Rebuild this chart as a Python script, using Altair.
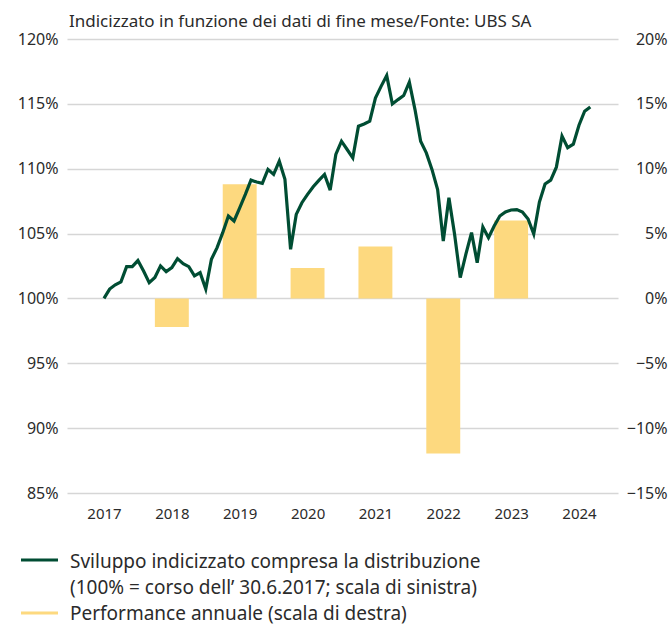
import altair as alt
import pandas as pd

# Monthly indexed development (100% = 30.6.2017), left scale
index_values = [
    100.0, 100.72, 101.05, 101.28, 102.45, 102.45, 102.92, 102.12, 101.22, 101.61,
    102.51, 102.07, 102.38, 103.07, 102.68, 102.45, 101.74, 101.99, 100.72, 103.02,
    103.92, 105.07, 106.35, 105.97, 106.99, 108.02, 109.12, 108.97, 108.87, 109.95,
    109.56, 110.58, 109.18, 103.79, 106.48, 107.38, 108.02, 108.61, 109.10, 109.56,
    108.35, 111.10, 112.12, 111.48, 110.84, 113.28, 113.45, 113.66, 115.45, 116.35,
    117.18, 114.99, 115.33, 115.64, 116.68, 114.56, 112.12, 111.22, 109.95, 108.40,
    104.43, 107.76, 104.95, 101.61, 103.41, 105.07, 102.76, 105.51, 104.68, 105.58,
    106.35, 106.66, 106.82, 106.85, 106.66, 106.12, 104.97, 107.43, 108.82, 109.12,
    110.12, 112.51, 111.62, 111.89, 113.35, 114.43, 114.76,
]

# Annual performance (%), right scale (0% aligned with 100% of left scale)
perf_years = [2018, 2019, 2020, 2021, 2022, 2023]
perf_values = [-2.2, 8.8, 2.35, 4.0, -11.95, 6.0]

tick_years = [2017, 2018, 2019, 2020, 2021, 2022, 2023, 2024]
left_ticks = [85, 90, 95, 100, 105, 110, 115, 120]

title_text = "Indicizzato in funzione dei dati di fine mese/Fonte: UBS SA"
legend_line1 = "Sviluppo indicizzato compresa la distribuzione"
legend_line2 = "(100% = corso dell’ 30.6.2017; scala di sinistra)"
legend_bar = "Performance annuale (scala di destra)"

GREEN = "#004d33"
YELLOW = "#fdd97f"
GRID = "#d6d6d6"
TEXT = "#2b2b2b"
FONT = "Noto Sans"

line_df = pd.DataFrame({
    "t": [2017 + i / 12 for i in range(len(index_values))],
    "v": index_values,
})
bar_df = pd.DataFrame({"year": perf_years, "perf": perf_values})

xscale = alt.Scale(domain=[2016.455, 2024.575], nice=False, zero=False)
yscale = alt.Scale(domain=[85, 120], nice=False, zero=False)
xaxis = alt.Axis(
    values=tick_years, format="d", title=None, grid=False, ticks=False, tickSize=0,
    domain=False, labelFontSize=15, labelColor=TEXT, labelFont=FONT, labelPadding=13,
)

bars = alt.Chart(bar_df).transform_calculate(
    x0="datum.year - 0.25", x1="datum.year + 0.25",
    ytop="100 + datum.perf", base="100",
).mark_rect(color=YELLOW).encode(
    x=alt.X("x0:Q", scale=xscale, axis=xaxis),
    x2="x1:Q",
    y=alt.Y("ytop:Q", scale=yscale,
            axis=alt.Axis(orient="right", values=left_ticks,
                          labelExpr="(datum.value < 100 ? '\u2212' + (100 - datum.value) : (datum.value - 100)) + '%'",
                          title=None, grid=False, ticks=False, tickSize=0, domain=False,
                          labelAlign="right", labelPadding=49, labelFontSize=16,
                          labelColor=TEXT, labelFont=FONT)),
    y2="base:Q",
)

line = alt.Chart(line_df).mark_line(color=GREEN, strokeWidth=3.2, strokeJoin="miter").encode(
    x=alt.X("t:Q", scale=xscale, axis=xaxis),
    y=alt.Y("v:Q", scale=yscale,
            axis=alt.Axis(orient="left", values=left_ticks,
                          labelExpr="datum.value + '%'", title=None, grid=True,
                          gridColor=GRID, gridWidth=1.3, gridOpacity=1,
                          ticks=False, tickSize=0,
                          domain=False, labelPadding=9, labelFontSize=16,
                          labelColor=TEXT, labelFont=FONT)),
)

one = pd.DataFrame({"k": [0]})


def label(text, x, y, size):
    return alt.Chart(one).mark_text(
        align="left", baseline="middle", fontSize=size, font=FONT, color=TEXT, text=text
    ).encode(x=alt.value(x), y=alt.value(y))


title = label(title_text, 2, -17, 17)
leg1 = label(legend_line1, 3, 523, 19)
leg2 = label(legend_line2, 3, 549, 19)
leg3 = label(legend_bar, 3, 575, 19)

leg_green = alt.Chart(one).mark_rule(color=GREEN, strokeWidth=3).encode(
    x=alt.value(-46), x2=alt.value(-9), y=alt.value(521)
)
leg_yellow = alt.Chart(one).mark_rule(color=YELLOW, strokeWidth=3).encode(
    x=alt.value(-46), x2=alt.value(-9), y=alt.value(574)
)

chart = alt.layer(bars, line, title, leg1, leg2, leg3, leg_green, leg_yellow).resolve_axis(
    y="independent"
).properties(
    width=551, height=454,
    background="white",
    autosize=alt.AutoSizeParams(type="none"),
    padding={"left": 67, "top": 39, "right": 52, "bottom": 132},
).configure_view(stroke=None)

chart.save("out.html", embed_options={"renderer": "svg", "actions": False})
